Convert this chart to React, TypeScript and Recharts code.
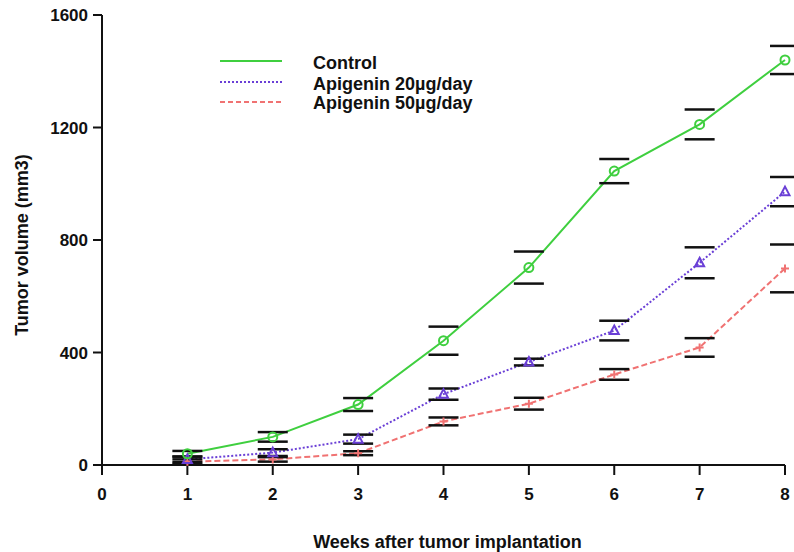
/**
 * Tumor volume growth by treatment group, with SEM caps.
 */
import {
  ComposedChart,
  Legend,
  Line,
  Scatter,
  XAxis,
  YAxis,
} from 'recharts';

const weeks = [1, 2, 3, 4, 5, 6, 7, 8];
const controlMean = [40, 100, 215, 442, 702, 1045, 1211, 1440];
const controlErr = [10, 17, 23, 50, 57, 43, 53, 50];
const api20Mean = [20, 44, 92, 252, 366, 478, 719, 972];
const api20Err = [10, 12, 16, 20, 12, 35, 55, 52];
const api50Mean = [12, 20, 42, 155, 218, 322, 418, 699];
const api50Err = [8, 8, 7, 14, 21, 19, 33, 85];
const xTicks = [0, 1, 2, 3, 4, 5, 6, 7, 8];
const yTicks = [0, 400, 800, 1200, 1600];

const GREEN = '#3fcf3f';
const PURPLE = '#6a3fd6';
const RED = '#f07272';
const FONT = '"Liberation Sans", Arial, sans-serif';

const data = weeks.map((week, i) => ({
  week,
  control: controlMean[i],
  controlHi: controlMean[i] + controlErr[i],
  controlLo: controlMean[i] - controlErr[i],
  api20: api20Mean[i],
  api20Hi: api20Mean[i] + api20Err[i],
  api20Lo: api20Mean[i] - api20Err[i],
  api50: api50Mean[i],
  api50Hi: api50Mean[i] + api50Err[i],
  api50Lo: api50Mean[i] - api50Err[i],
}));

const capShape = (props: any) => {
  const { cx, cy } = props;
  return <line x1={cx - 15} x2={cx + 15} y1={cy} y2={cy} stroke="#111" strokeWidth={2.5} />;
};

const circleDot = (props: any) => (
  <circle key={props.index} cx={props.cx} cy={props.cy} r={4.5} fill="none" stroke={GREEN} strokeWidth={2} />
);

const triangleDot = (props: any) => {
  const { cx, cy, index } = props;
  return (
    <path
      key={index}
      d={`M${cx},${cy - 5} L${cx + 4.5},${cy + 3.5} L${cx - 4.5},${cy + 3.5} Z`}
      fill="none"
      stroke={PURPLE}
      strokeWidth={2}
    />
  );
};

const plusDot = (props: any) => {
  const { cx, cy, index } = props;
  return (
    <path key={index} d={`M${cx - 4},${cy} H${cx + 4} M${cx},${cy - 4} V${cy + 4}`} stroke={RED} strokeWidth={2} />
  );
};

const legendRows = [
  { label: 'Control', color: GREEN, dash: undefined, y: 10 },
  { label: 'Apigenin 20\u00b5g/day', color: PURPLE, dash: '2 2', y: 31 },
  { label: 'Apigenin 50\u00b5g/day', color: RED, dash: '5 3', y: 51 },
];

const renderLegend = () => (
  <svg width={290} height={66}>
    {legendRows.map((row, i) => (
      <g key={row.label}>
        <line x1={5} x2={67} y1={row.y} y2={row.y} stroke={row.color} strokeWidth={2} strokeDasharray={row.dash} />
        <text x={98} y={row.y + 2 - i * 0.5} dy="0.36em" fontFamily={FONT} fontWeight="bold" fontSize={18} fill="#111">
          {row.label}
        </text>
      </g>
    ))}
  </svg>
);

const tickStyle = { fontSize: 17, fontWeight: 'bold', fill: '#111', fontFamily: FONT };

export default function App() {
  return (
    <div style={{ position: 'absolute', left: 0, top: 0, background: '#fff' }}>
      <ComposedChart width={794} height={552} data={data} margin={{ top: 15, right: 9, left: 0, bottom: 0 }}>
        <XAxis
          type="number"
          dataKey="week"
          domain={[0, 8]}
          ticks={xTicks}
          tick={tickStyle}
          tickSize={10}
          tickMargin={13}
          height={87}
          stroke="#111"
          strokeWidth={2}
          label={{
            value: 'Weeks after tumor implantation',
            position: 'insideBottom',
            offset: 4,
            dx: 4,
            style: { fontSize: 18, fontWeight: 'bold', fill: '#111', fontFamily: FONT },
          }}
        />
        <YAxis
          type="number"
          domain={[0, 1600]}
          ticks={yTicks}
          tick={tickStyle}
          tickSize={9}
          tickMargin={5}
          width={102}
          stroke="#111"
          strokeWidth={2}
          label={{
            value: 'Tumor volume (mm3)',
            angle: -90,
            position: 'insideLeft',
            offset: 22,
            dy: 5,
            style: { fontSize: 18, fontWeight: 'bold', fill: '#111', fontFamily: FONT, textAnchor: 'middle' },
          }}
        />
        <Legend layout="vertical" align="center" verticalAlign="middle" content={renderLegend} wrapperStyle={{ left: 215, top: 51, width: 290 }} />
        <Scatter dataKey="controlHi" shape={capShape} isAnimationActive={false} legendType="none" />
        <Scatter dataKey="controlLo" shape={capShape} isAnimationActive={false} legendType="none" />
        <Scatter dataKey="api20Hi" shape={capShape} isAnimationActive={false} legendType="none" />
        <Scatter dataKey="api20Lo" shape={capShape} isAnimationActive={false} legendType="none" />
        <Scatter dataKey="api50Hi" shape={capShape} isAnimationActive={false} legendType="none" />
        <Scatter dataKey="api50Lo" shape={capShape} isAnimationActive={false} legendType="none" />
        <Line type="linear" dataKey="api50" stroke={RED} strokeWidth={2} strokeDasharray="6 3" dot={plusDot} isAnimationActive={false} />
        <Line type="linear" dataKey="api20" stroke={PURPLE} strokeWidth={2} strokeDasharray="2 2" dot={triangleDot} isAnimationActive={false} />
        <Line type="linear" dataKey="control" stroke={GREEN} strokeWidth={2} dot={circleDot} isAnimationActive={false} />
      </ComposedChart>
    </div>
  );
}
